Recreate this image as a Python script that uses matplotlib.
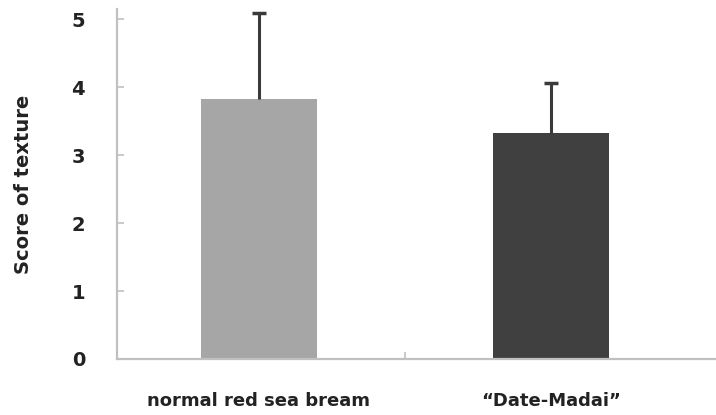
import numpy as np
import matplotlib.pyplot as plt

groups = ['normal red sea bream', '\u201cDate-Madai\u201d']
scores = [3.82, 3.32]
sd_up = [1.28, 0.74]
colors = ['#a6a6a6', '#404040']

plt.rcParams['font.family'] = ['DejaVu Sans']

f = plt.figure(figsize=(7.16, 4.15), dpi=100)
ax = f.add_axes([0.1634, 0.135, 0.8366, 0.843])

x = np.arange(len(groups))
ax.bar(x, scores, width=0.40, color=colors, zorder=2)
eb = ax.errorbar(x, scores, yerr=[np.zeros(len(sd_up)), sd_up], fmt='none',
                 ecolor='#3a3a3a', elinewidth=2.2, capsize=5, capthick=2.5, zorder=3)
# only the upper cap
eb[1][0].set_visible(False)

ax.set_xlim(-0.486, 1.565)
ax.set_ylim(0, 5.15)
ax.set_yticks(range(6))
ax.set_xticks(x)
ax.set_xticklabels(groups, fontsize=13, fontweight='bold', color='#222222')
ax.set_xticks([0.5], minor=True)
ax.tick_params(axis='x', which='major', length=0, pad=24)
ax.tick_params(axis='x', which='minor', direction='in', length=5, color='#c0c0c0', width=1.2)
ax.tick_params(axis='y', direction='in', length=5, color='#c0c0c0', width=1.2,
               labelsize=14, labelcolor='#222222', pad=23)
for lbl in ax.get_yticklabels():
    lbl.set_fontweight('bold')

for s in ['top', 'right']:
    ax.spines[s].set_visible(False)
for s in ['left', 'bottom']:
    ax.spines[s].set_color('#c0c0c0')
    ax.spines[s].set_linewidth(1.6)

ax.set_ylabel('Score of texture', fontsize=14, fontweight='bold', color='#222222')
ax.yaxis.set_label_coords(-0.14, 0.5)

f.savefig('out.png', dpi=100)
